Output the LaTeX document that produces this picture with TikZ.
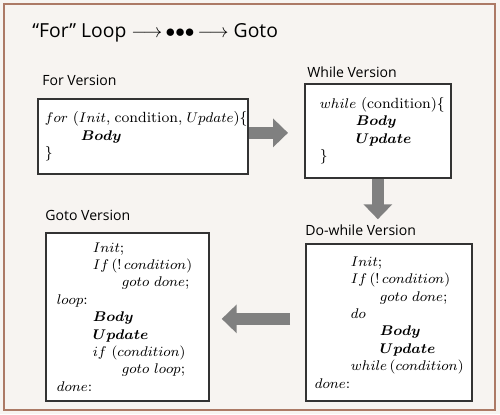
\documentclass[tikz,border=0pt]{standalone}
\usepackage{amsmath}
\usepackage{fontspec}
\newfontfamily\labelfont{Open Sans}
\usetikzlibrary{arrows.meta}

\definecolor{pagecol}{RGB}{247,244,241}
\definecolor{framecol}{RGB}{172,122,102}
\definecolor{arrowcol}{RGB}{128,128,128}

\newcommand{\indA}{\hspace*{0.72cm}}
\newcommand{\indB}{\hspace*{1.3cm}}

\begin{document}
\begin{tikzpicture}[x=0.02cm, y=-0.02cm,
  title/.style={font=\labelfont\fontsize{11}{13}\selectfont, anchor=west, inner sep=0pt},
  boxlabel/.style={font=\labelfont\fontsize{8}{10}\selectfont, anchor=west, inner sep=0pt},
  codebox/.style={draw=black!80, line width=1pt, fill=white, anchor=north west, align=left, inner ysep=0pt, font=\fontsize{8.4}{9.9}\selectfont},
  blockarrow/.style={draw=arrowcol, line width=0.25cm, -{Triangle[width=0.56cm, length=0.3cm]}}
]

% background and frame
\fill[pagecol] (0,0) rectangle (500,414);
\draw[framecol, line width=0.8pt] (4,4) rectangle (495,410);

% title
\node[title] (title) at (32,33) {“For” Loop ${\longrightarrow}\,{\bullet}{\bullet}{\bullet}\,{\longrightarrow}$ Goto};

% the four versions
\node[boxlabel] (forlabel) at (42,80) {For Version};
\node[codebox, inner xsep=0.12cm, text width=3.92cm, minimum width=4.2cm, minimum height=1.5cm] (forbox) at (37,98)
  {\mbox{$for$ ($Init$,\;condition,\;$Update$)\{}\\ \indA$\boldsymbol{Body}$\\ \}};

\node[boxlabel] (whilelabel) at (307,72) {While Version};
\node[codebox, inner xsep=0.28cm, text width=2.32cm, minimum width=2.92cm, minimum height=1.88cm] (whilebox) at (304,83)
  {\mbox{$while$ (condition)\{}\\ \indA$\boldsymbol{Body}$\\ \indA$\boldsymbol{Update}$\\ \}};

\node[boxlabel] (dwlabel) at (305,230) {Do-while Version};
\node[codebox, inner xsep=0.16cm, text width=2.96cm, minimum width=3.32cm, minimum height=3.14cm] (dowhilebox) at (305,243)
  {\indA$Init$;\\ \indA$If\,(!\,condition)$\\ \indB$goto\ done$;\\ \indA$do$\\
   \indB$\boldsymbol{Body}$\\ \indB$\boldsymbol{Update}$\\ \indA\mbox{$while\,(condition)$}\\ $done$:};

\node[boxlabel] (gotolabel) at (45,215) {Goto Version};
\node[codebox, inner xsep=0.2cm, text width=2.82cm, minimum width=3.26cm, minimum height=3.36cm] (gotobox) at (45,232)
  {\indA$Init$;\\ \indA$If\,(!\,condition)$\\ \indB$goto\ done$;\\ $loop$:\\
   \indA$\boldsymbol{Body}$\\ \indA$\boldsymbol{Update}$\\ \indA$if\ (condition)$\\ \indB$goto\ loop$;\\ $done$:};

% block arrows
\draw[blockarrow, shorten >=0.32cm] ([yshift=2pt]forbox.east) -- ([yshift=2pt]forbox.east -| whilebox.west);
\draw[blockarrow, shorten >=0.1cm] (whilebox.south) -- (dwlabel.north -| whilebox.south);
\draw[blockarrow, shorten <=0.3cm, shorten >=0.24cm] ([yshift=2pt]dowhilebox.west) -- ([yshift=2pt]dowhilebox.west -| gotobox.east);

\end{tikzpicture}
\end{document}
